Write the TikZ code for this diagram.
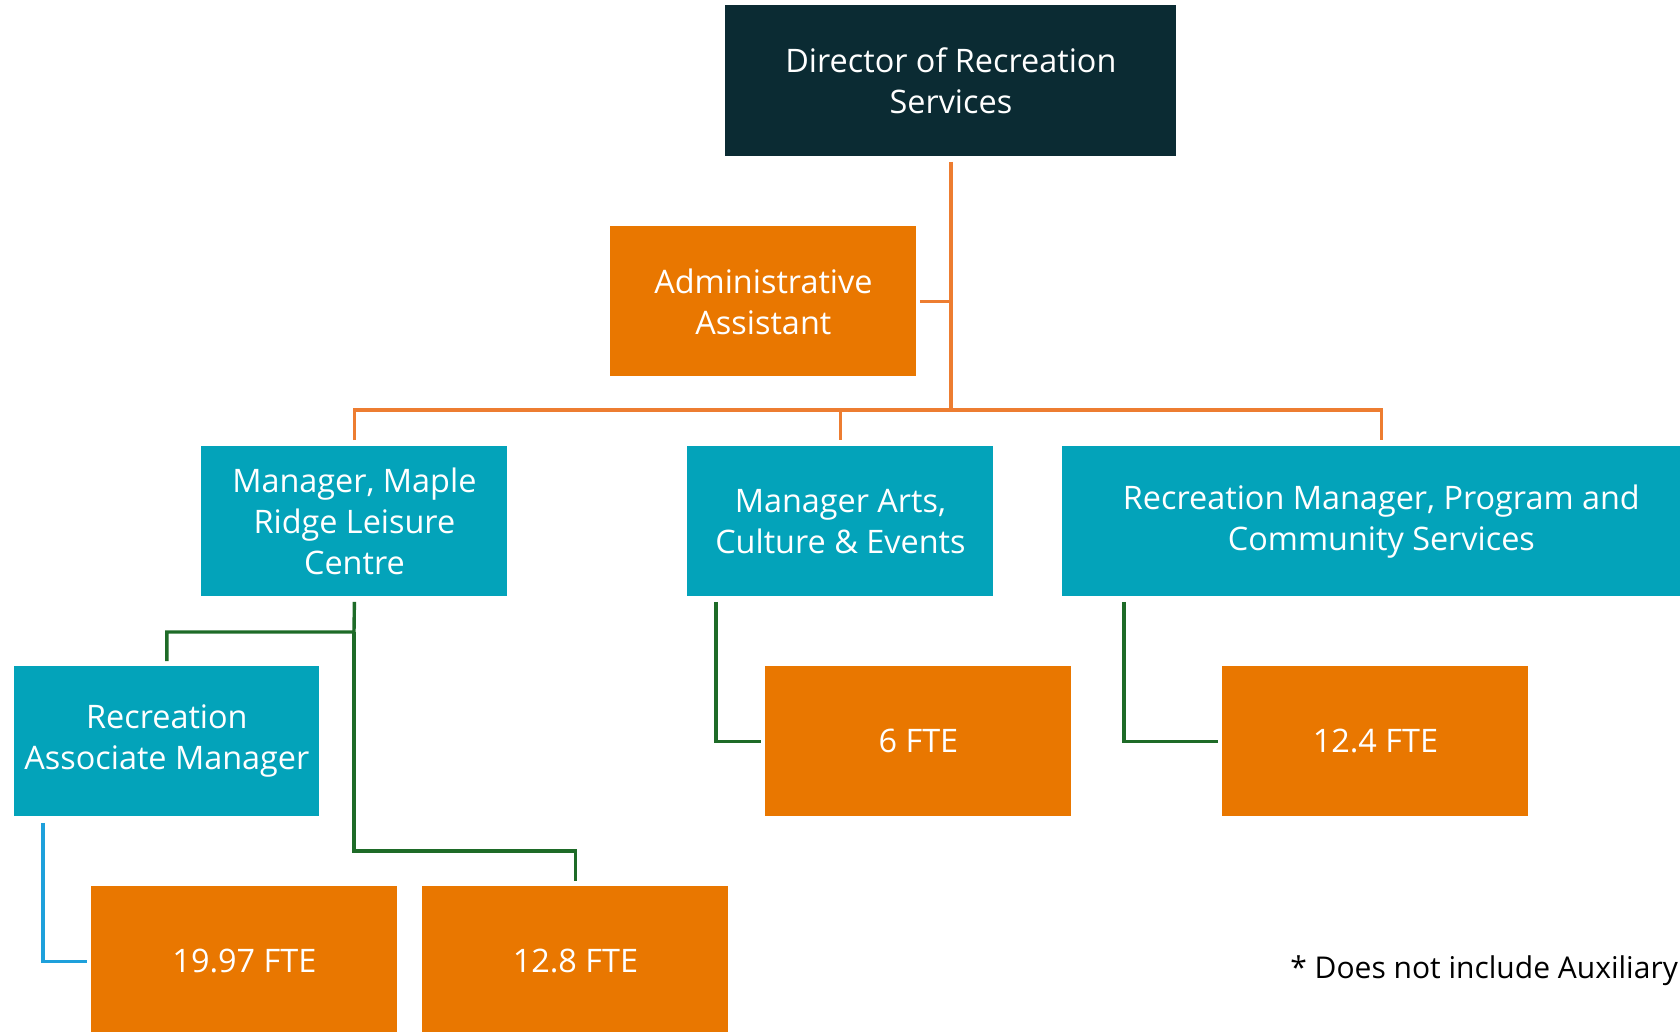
\documentclass[tikz,border=0pt]{standalone}
\usepackage{fontspec}
\setmainfont{Open Sans}
\usetikzlibrary{calc}
\definecolor{darkbox}{HTML}{0B2B33}
\definecolor{orangebox}{HTML}{E97700}
\definecolor{tealbox}{HTML}{03A3BA}
\definecolor{oline}{HTML}{ED7D31}
\definecolor{gline}{HTML}{1E6B28}
\definecolor{bline}{HTML}{1EA0DB}
\tikzset{
  box/.style={anchor=north west, inner sep=0pt, text=white, align=center,
    font=\fontsize{16.2}{20.5}\selectfont, minimum height=75pt},
  dbox/.style={box, fill=darkbox},
  obox/.style={box, fill=orangebox},
  tbox/.style={box, fill=tealbox},
  olink/.style={draw=oline, line width=1.7pt},
  glink/.style={draw=gline, line width=1.7pt},
  blink/.style={draw=bline, line width=1.7pt},
}
\begin{document}
\begin{tikzpicture}[x=0.5pt,y=-0.5pt]
\useasboundingbox (0,0) rectangle (1680,1032);
\clip (0,0) rectangle (1680,1032);
\node[dbox, minimum width=225.5pt, minimum height=75.5pt] (dir) at (725,5) {Director of Recreation\\Services};
\node[obox, minimum width=153pt] (admin) at (610,226) {Administrative\\Assistant};
\node[tbox, minimum width=153pt] (maple) at (201,446) {Manager, Maple\\Ridge Leisure\\Centre};
\node[tbox, minimum width=153pt] (arts) at (687,446) {Manager Arts,\\Culture \& Events};
\node[tbox, minimum width=319pt] (prog) at (1062,446) {Recreation Manager, Program and\\Community Services};
\node[tbox, minimum width=152.5pt] (assoc) at (14,666) {Recreation\\Associate Manager};
\node[obox, minimum width=153pt] (six) at (765,666) {6 FTE};
\node[obox, minimum width=153pt] (n124) at (1222,666) {12.4 FTE};
\node[obox, minimum width=153pt] (n1997) at (91,886) {19.97 FTE};
\node[obox, minimum width=153pt] (n128) at (422,886) {12.8 FTE};
\node[anchor=west, inner sep=0pt, font=\fontsize{15}{18}\selectfont] (note) at (1290,971) {* Does not include Auxiliary};

\coordinate (busy) at (0,410);
% orange connectors
\draw[olink] ($(dir.south)+(0,5)$) -- (dir.south |- busy);
\draw[olink] ($(admin.east)+(3,0)$) -- (dir.south |- admin.east);
\draw[olink] ($(maple.north)+(0,-6)$) -- (maple.north |- busy) -- (prog.north |- busy) -- ($(prog.north)+(0,-6)$);
\draw[olink] (arts.north |- busy) -- ($(arts.north)+(0,-6)$);
% green connectors
\coordinate (gj) at (354,632);
\draw[glink] ($(maple.south)+(0,5)$) -- (gj) -| ($(assoc.north)+(0,-5)$);
\draw[glink] (gj) -- (gj |- 0,851) -| ($(n128.north)+(0,-5)$);
\draw[glink] ($(arts.south west)+(29,5)$) |- ($(six.west)+(-4,0)$);
\draw[glink] ($(prog.south west)+(62,5)$) |- ($(n124.west)+(-4,0)$);
% blue connector
\draw[blink] ($(assoc.south west)+(29,6)$) |- ($(n1997.west)+(-4,0)$);
\end{tikzpicture}
\end{document}
